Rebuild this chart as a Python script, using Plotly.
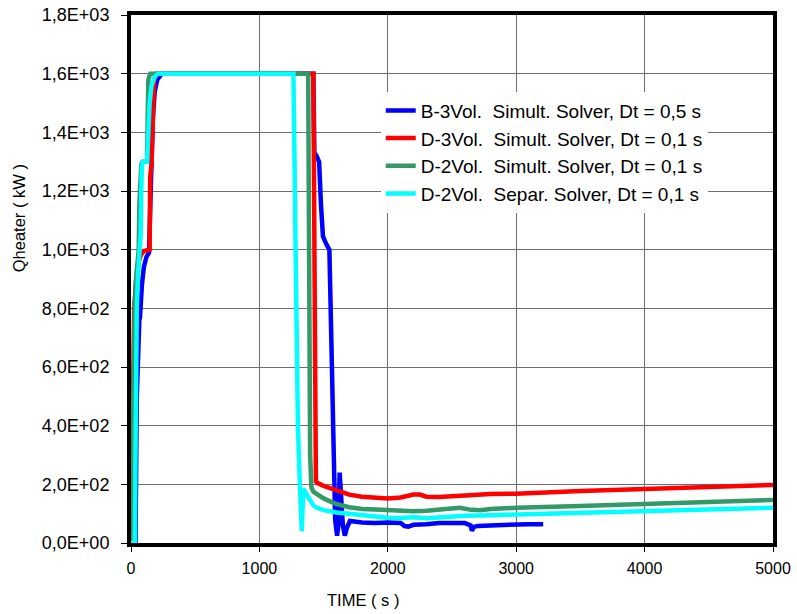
import plotly.graph_objects as go

# ---- data ----
blue_t = [0, 35, 45, 55, 65, 70, 72, 85, 100, 120, 140, 150, 160, 170, 185, 205, 240,
          1420, 1428, 1445, 1465, 1480, 1495, 1520, 1545, 1560, 1575, 1590, 1605, 1615,
          1625, 1635, 1650, 1665, 1680, 1705, 1750, 1800, 1900, 2000, 2100, 2130, 2160,
          2200, 2300, 2400, 2500, 2600, 2645, 2655, 2670, 2700, 2800, 2900, 3000, 3100, 3210]
blue_q = [0, 0, 500, 680, 760, 770, 800, 880, 940, 975, 990, 1100, 1300, 1450, 1540, 1580, 1600,
          1600, 1330, 1320, 1300, 1150, 1045, 1020, 1000, 700, 300, 80, 25, 60,
          240, 150, 60, 25, 50, 75, 72, 70, 68, 70, 68, 58, 56,
          62, 64, 68, 68, 68, 60, 42, 55, 58, 60, 62, 63, 64, 64]

red_t = [0, 5, 10, 15, 25, 40, 60, 80, 100, 145, 150, 160, 170, 180, 200,
         1420, 1440, 1450, 1500, 1550, 1600, 1700, 1800, 1900, 2000, 2100, 2200, 2250,
         2300, 2400, 2500, 2600, 2800, 3000, 3200, 3500, 4000, 4500, 5000]
red_q = [0, 150, 400, 600, 800, 900, 960, 985, 995, 1000, 1250, 1290, 1500, 1580, 1600,
         1600, 210, 205, 195, 188, 178, 165, 158, 155, 152, 155, 165, 165,
         158, 157, 160, 162, 167, 168, 172, 177, 184, 191, 198]

green_t = [0, 10, 20, 30, 45, 60, 65, 70, 80, 90, 125, 130, 135, 150,
           1380, 1395, 1405, 1420, 1450, 1500, 1550, 1600, 1700, 1800, 1900, 2000, 2100,
           2200, 2300, 2400, 2500, 2560, 2650, 2720, 2800, 3000, 3500, 4000, 4500, 5000]
green_q = [0, 300, 650, 820, 930, 1000, 1150, 1250, 1290, 1300, 1300, 1450, 1580, 1600,
           1600, 300, 190, 175, 165, 152, 142, 133, 122, 116, 114, 112, 110,
           108, 110, 115, 118, 120, 113, 112, 116, 120, 126, 133, 140, 147]

cyan_t = [0, 30, 35, 40, 45, 55, 65, 75, 80, 85, 95, 125, 135, 145, 160, 185, 210,
          1265, 1285, 1300, 1315, 1330, 1342, 1360, 1380, 1420, 1450, 1500, 1600, 1700,
          1800, 1900, 2000, 2100, 2200, 2300, 2400, 2500, 2600, 2800, 3000, 3500, 4000,
          4500, 5000]
cyan_q = [0, 0, 300, 600, 800, 920, 990, 1050, 1200, 1290, 1300, 1300, 1400, 1500, 1560, 1590, 1600,
          1600, 900, 400, 200, 40, 185, 170, 155, 128, 120, 112, 104, 99,
          94, 88, 86, 85, 88, 84, 88, 92, 93, 95, 97, 102, 107,
          113, 120]

series_names = [
    "B-3Vol.\u00a0\u00a0Simult. Solver, Dt = 0,5 s",
    "D-3Vol.\u00a0\u00a0Simult. Solver, Dt = 0,1 s",
    "D-2Vol.\u00a0\u00a0Simult. Solver, Dt = 0,1 s",
    "D-2Vol.\u00a0\u00a0Separ. Solver, Dt = 0,1 s",
]
series_colors = ["#0000FF", "#FF0000", "#339966", "#00FFFF"]

y_tickvals = [0, 200, 400, 600, 800, 1000, 1200, 1400, 1600, 1800]
y_ticktext = ["0,0E+00", "2,0E+02", "4,0E+02", "6,0E+02", "8,0E+02",
              "1,0E+03", "1,2E+03", "1,4E+03", "1,6E+03", "1,8E+03"]
x_tickvals = [0, 1000, 2000, 3000, 4000, 5000]
x_ticktext = ["0", "1000", "2000", "3000", "4000", "5000"]

FONT = "Liberation Sans, Arial, sans-serif"

fig = go.Figure()
for t, q, name, col in zip([blue_t, red_t, green_t, cyan_t],
                           [blue_q, red_q, green_q, cyan_q],
                           series_names, series_colors):
    fig.add_trace(go.Scatter(x=t, y=q, mode="lines", name=name,
                             line=dict(color=col, width=4.5)))

fig.update_layout(
    width=797, height=614,
    margin=dict(l=131, r=24, t=15, b=71, autoexpand=False),
    paper_bgcolor="white", plot_bgcolor="white",
    font=dict(family=FONT, color="black", size=16),
    showlegend=True,
    legend=dict(x=0.389, y=0.855, xanchor="left", yanchor="top",
                bgcolor="white", borderwidth=0,
                font=dict(family=FONT, size=19, color="black"),
                tracegroupgap=0),
    annotations=[
        dict(text="Qheater ( kW )", textangle=-90, xref="paper", yref="paper",
             x=-0.1745, y=0.615, xanchor="center", yanchor="middle",
             showarrow=False, font=dict(family=FONT, size=16.5, color="black")),
        dict(text="TIME ( s )", xref="paper", yref="paper",
             x=0.361, y=-0.108, xanchor="center", yanchor="middle",
             showarrow=False, font=dict(family=FONT, size=16.5, color="black")),
    ],
)
fig.update_xaxes(range=[0, 5000], tickvals=x_tickvals, ticktext=x_ticktext,
                 showgrid=True, gridcolor="#6e6e6e", gridwidth=1,
                 showline=True, linecolor="black", linewidth=4, mirror=True,
                 ticks="outside", ticklen=5, tickcolor="black", tickwidth=1,
                 tickfont=dict(family=FONT, size=16, color="black"),
                 ticklabelstandoff=3, automargin=False, ticklabeloverflow="allow",
                 zeroline=False)
fig.update_yaxes(range=[0, 1800], tickvals=y_tickvals, ticktext=y_ticktext,
                 showgrid=True, gridcolor="#6e6e6e", gridwidth=1,
                 showline=True, linecolor="black", linewidth=4, mirror=True,
                 ticks="outside", ticklen=6, tickcolor="black", tickwidth=1,
                 tickfont=dict(family=FONT, size=18, color="black"),
                 ticklabelstandoff=8, automargin=False, ticklabeloverflow="allow",
                 zeroline=False)

# remove the browser's default 8px body margin so the figure fills the window
fig.write_html("out.html", config={"displayModeBar": False},
               post_script="document.body.style.margin='0';document.body.style.overflow='hidden';")
